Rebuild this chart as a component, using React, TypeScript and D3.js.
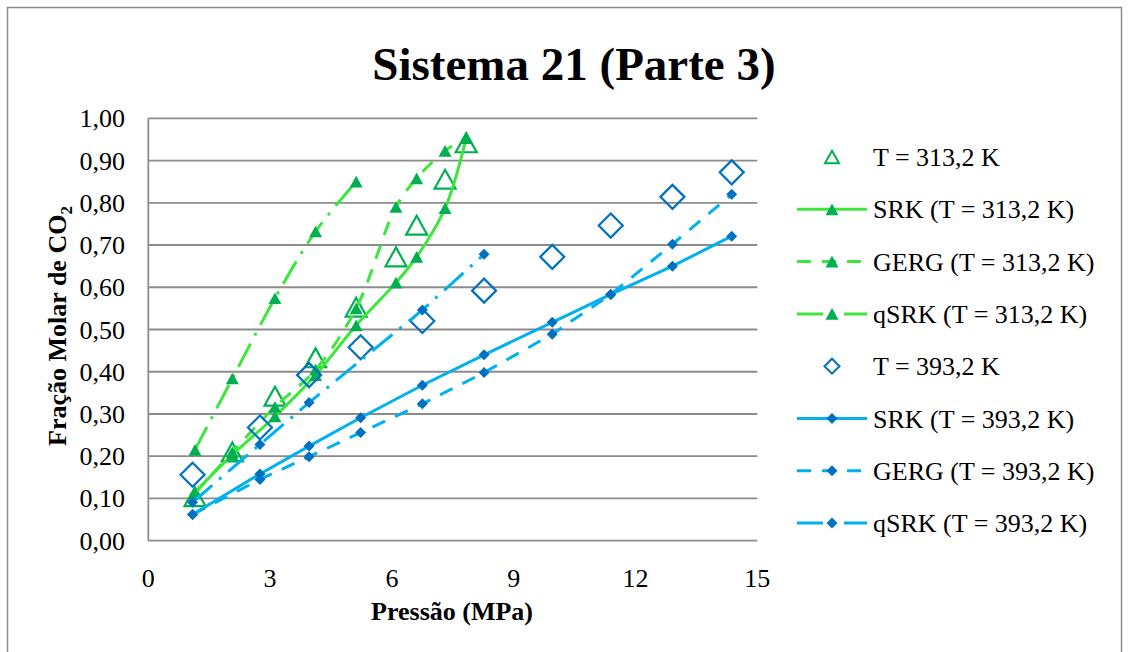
import React from "react";
import * as d3 from "d3";

// ---- data ----
const expP313 = [1.15, 2.07, 3.12, 4.12, 5.12, 6.1, 6.61, 7.31, 7.83];
const expY313 = [0.104, 0.21, 0.342, 0.433, 0.553, 0.672, 0.747, 0.856, 0.942];
const srkY313 = [0.115, 0.203, 0.294, 0.392, 0.51, 0.611, 0.672, 0.787, 0.953];
const gergY313 = [0.112, 0.21, 0.317, 0.405, 0.55, 0.79, 0.858, 0.923, 0.955];
const qsrkP313 = [1.15, 2.07, 3.12, 4.12, 5.12];
const qsrkY313 = [0.215, 0.384, 0.574, 0.732, 0.85];

const expP393 = [1.09, 2.75, 3.96, 5.23, 6.75, 8.27, 9.95, 11.39, 12.91, 14.37];
const expY393 = [0.156, 0.268, 0.392, 0.458, 0.52, 0.592, 0.672, 0.746, 0.814, 0.872];
const srkY393 = [0.062, 0.158, 0.224, 0.291, 0.368, 0.44, 0.517, 0.583, 0.65, 0.721];
const gergY393 = [0.062, 0.145, 0.199, 0.256, 0.324, 0.398, 0.489, 0.583, 0.702, 0.82];
const qsrkP393 = [1.09, 2.75, 3.96, 6.75, 8.27];
const qsrkY393 = [0.091, 0.228, 0.327, 0.546, 0.678];

const xTicks = [0, 3, 6, 9, 12, 15];
const yTicks = [0, 0.1, 0.2, 0.3, 0.4, 0.5, 0.6, 0.7, 0.8, 0.9, 1.0];

const legendLabels = [
  "T = 313,2 K",
  "SRK (T = 313,2 K)",
  "GERG (T = 313,2 K)",
  "qSRK (T = 313,2 K)",
  "T = 393,2 K",
  "SRK (T = 393,2 K)",
  "GERG (T = 393,2 K)",
  "qSRK (T = 393,2 K)",
];

const GREEN_LINE = "#3ce63c";
const GREEN_MARK = "#00b050";
const BLUE_LINE = "#00b0f0";
const BLUE_MARK = "#0070c0";
const FONT = '"Liberation Serif", "Times New Roman", Times, serif';
const FS = 26;

const W = 1129;
const H = 652;
const x = d3.scaleLinear().domain([0, 15]).range([148.3, 757.3]);
const y = d3.scaleLinear().domain([0, 1]).range([540.7, 118.3]);

type Pt = [number, number];
const zip = (a: number[], b: number[]): Pt[] => a.map((v, i) => [v, b[i]]);

const triPath = (s: number) => {
  const h = s * 0.9;
  return `M0,${-h / 2}L${s / 2},${h / 2}L${-s / 2},${h / 2}Z`;
};
const diaPath = (s: number) => `M0,${-s / 2}L${s / 2},0L0,${s / 2}L${-s / 2},0Z`;

const dashGerg = "14 11";
const dashQ = "26 9 3 9";

function Series({
  pts,
  color,
  dash,
  curve,
  marker,
  markColor,
}: {
  pts: Pt[];
  color: string;
  dash?: string;
  curve: d3.CurveFactory;
  marker: string;
  markColor: string;
}) {
  const line = d3
    .line<Pt>()
    .x((d) => x(d[0]))
    .y((d) => y(d[1]))
    .curve(curve);
  return (
    <g>
      <path d={line(pts) || ""} fill="none" stroke={color} strokeWidth={3} strokeDasharray={dash} />
      {pts.map((p, i) => (
        <path key={i} d={marker} transform={`translate(${x(p[0])},${y(p[1])})`} fill={markColor} />
      ))}
    </g>
  );
}

export default function App() {
  const tri = triPath(13);
  const dia = diaPath(11);
  const openTri = triPath(21);
  const openDia = diaPath(24);
  const legX = 797;
  const legY0 = 157;
  const legDy = 52.3;
  const ts = { fontFamily: FONT } as React.CSSProperties;

  const legendItems = [
    { kind: "open", shape: triPath(14), color: GREEN_MARK },
    { kind: "line", color: GREEN_LINE, dash: undefined, shape: tri, mc: GREEN_MARK },
    { kind: "line", color: GREEN_LINE, dash: dashGerg, shape: tri, mc: GREEN_MARK },
    { kind: "line", color: GREEN_LINE, dash: dashQ, shape: tri, mc: GREEN_MARK },
    { kind: "open", shape: diaPath(15), color: BLUE_MARK },
    { kind: "line", color: BLUE_LINE, dash: undefined, shape: dia, mc: BLUE_MARK },
    { kind: "line", color: BLUE_LINE, dash: dashGerg, shape: dia, mc: BLUE_MARK },
    { kind: "line", color: BLUE_LINE, dash: dashQ, shape: dia, mc: BLUE_MARK },
  ];

  return (
    <svg
      width={W}
      height={H}
      style={{ position: "absolute", left: 0, top: 0, background: "#fff", fontFamily: FONT }}
    >
      <rect x={7.5} y={7.5} width={1114} height={700} fill="#fff" stroke="#8c8c8c" strokeWidth={1.5} />
      <text x={574} y={80} textAnchor="middle" fontSize={47} fontWeight="bold" style={ts}>
        Sistema 21 (Parte 3)
      </text>

      {/* gridlines */}
      {yTicks.map((t) => (
        <line key={t} x1={x(0)} x2={x(15)} y1={y(t)} y2={y(t)} stroke="#8c8c8c" strokeWidth={1.8} />
      ))}
      <line x1={x(0)} x2={x(0)} y1={y(0)} y2={y(1)} stroke="#8c8c8c" strokeWidth={1.8} />

      {/* tick labels */}
      {yTicks.map((t) => (
        <text key={t} x={125} y={y(t) + 9} textAnchor="end" fontSize={FS} style={ts}>
          {t.toFixed(2).replace(".", ",")}
        </text>
      ))}
      {xTicks.map((t) => (
        <text key={t} x={x(t)} y={587} textAnchor="middle" fontSize={FS} style={ts}>
          {t}
        </text>
      ))}
      <text x={452} y={620} textAnchor="middle" fontSize={FS} fontWeight="bold" style={ts}>
        Pressão (MPa)
      </text>
      <text transform="translate(66,326) rotate(-90)" textAnchor="middle" fontSize={FS} fontWeight="bold" style={ts}>
        Fração Molar de CO
        <tspan fontSize={17} dy={6}>2</tspan>
      </text>

      {/* series */}
      {zip(expP313, expY313).map((p, i) => (
        <path key={i} d={openTri} transform={`translate(${x(p[0])},${y(p[1])})`} fill="none" stroke={GREEN_MARK} strokeWidth={2.2} />
      ))}
      <Series pts={zip(expP313, srkY313)} color={GREEN_LINE} curve={d3.curveCatmullRom} marker={tri} markColor={GREEN_MARK} />
      <Series pts={zip(expP313, gergY313)} color={GREEN_LINE} dash={dashGerg} curve={d3.curveCatmullRom} marker={tri} markColor={GREEN_MARK} />
      <Series pts={zip(qsrkP313, qsrkY313)} color={GREEN_LINE} dash={dashQ} curve={d3.curveCatmullRom} marker={tri} markColor={GREEN_MARK} />
      {zip(expP393, expY393).map((p, i) => (
        <path key={i} d={openDia} transform={`translate(${x(p[0])},${y(p[1])})`} fill="none" stroke={BLUE_MARK} strokeWidth={2.2} />
      ))}
      <Series pts={zip(expP393, srkY393)} color={BLUE_LINE} curve={d3.curveLinear} marker={dia} markColor={BLUE_MARK} />
      <Series pts={zip(expP393, gergY393)} color={BLUE_LINE} dash={dashGerg} curve={d3.curveLinear} marker={dia} markColor={BLUE_MARK} />
      <Series pts={zip(qsrkP393, qsrkY393)} color={BLUE_LINE} dash={dashQ} curve={d3.curveLinear} marker={dia} markColor={BLUE_MARK} />

      {/* legend */}
      {legendItems.map((it, i) => {
        const cy = legY0 + i * legDy;
        return (
          <g key={i}>
            {it.kind === "open" ? (
              <path d={it.shape} transform={`translate(${legX + 35},${cy})`} fill="none" stroke={it.color} strokeWidth={2} />
            ) : (
              <g>
                <line x1={legX} x2={legX + 70} y1={cy} y2={cy} stroke={it.color} strokeWidth={3} strokeDasharray={it.dash} />
                <path d={it.shape} transform={`translate(${legX + 35},${cy})`} fill={(it as any).mc} />
              </g>
            )}
            <text x={873} y={cy + 9} fontSize={FS} style={ts}>
              {legendLabels[i]}
            </text>
          </g>
        );
      })}
    </svg>
  );
}
